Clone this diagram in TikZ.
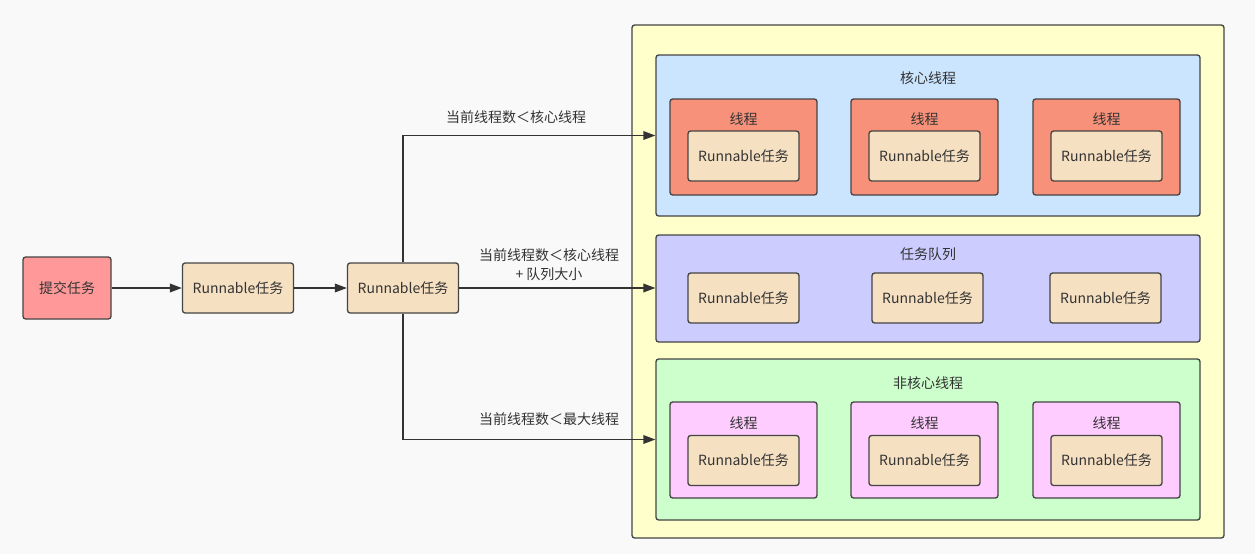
\documentclass[tikz,border=0pt]{standalone}
\usepackage{fontspec}
\setmainfont{Noto Sans CJK SC}
\usetikzlibrary{arrows.meta,positioning}

\definecolor{bggray}{HTML}{F9F9F9}
\definecolor{linegray}{HTML}{444444}
\definecolor{textgray}{HTML}{333333}
\definecolor{submitfill}{HTML}{FF9999}
\definecolor{taskfill}{HTML}{F6E0C2}
\definecolor{poolfill}{HTML}{FFFFCC}
\definecolor{corefill}{HTML}{CCE5FF}
\definecolor{threadfill}{HTML}{F8917A}
\definecolor{queuefill}{HTML}{CCCCFF}
\definecolor{extrafill}{HTML}{CCFFCC}
\definecolor{extrathread}{HTML}{FFCCFF}

\tikzset{
  box/.style={draw=linegray, line width=1pt, rounded corners=2pt, text=textgray, inner sep=0pt},
  task/.style={box, fill=taskfill, minimum width=83.25pt, minimum height=37.5pt},
  area/.style={box, minimum width=408pt},
  thread/.style={box, minimum width=110.25pt, minimum height=72pt},
  flow/.style={draw=textgray, line width=1pt, -{Triangle[length=9pt, width=6.5pt]}},
  tag/.style={text=textgray, align=center}
}

\begin{document}
\begin{tikzpicture}[x=0.75pt, y=-0.75pt, font=\fontsize{10.5pt}{14pt}\selectfont]
  \fill[bggray] (0,0) rectangle (1255,554);
  \useasboundingbox (0,0) rectangle (1255,554);

  % 线程池
  \node[box, fill=poolfill, minimum width=444pt, minimum height=384.75pt] (pool) at (928,281.5) {};

  \node[area, fill=corefill, minimum height=120.75pt] (core) at (928,135.5) {};
  \node[area, fill=queuefill, minimum height=80.25pt] (queue) at (928,288.5) {};
  \node[area, fill=extrafill, minimum height=120.75pt] (extra) at (928,439.5) {};

  \node[tag] (coretitle) at (928,78) {核心线程};
  \node[tag] (queuetitle) at (928,254) {任务队列};
  \node[tag] (extratitle) at (928,383) {非核心线程};

  \foreach \x [count=\i] in {743.5, 924.5, 1106.5} {
    \node[thread, fill=threadfill] (ct\i) at (\x,147) {};
    \node[tag] (ctt\i) at (\x,119) {线程};
    \node[task] (cr\i) at (\x,156) {Runnable任务};
    \node[thread, fill=extrathread] (et\i) at (\x,450) {};
    \node[tag] (ett\i) at (\x,423) {线程};
    \node[task] (er\i) at (\x,460.5) {Runnable任务};
  }
  \foreach \x [count=\i] in {743.5, 927.5, 1105.5}
    \node[task] (qr\i) at (\x,298) {Runnable任务};

  % 提交流程
  \node[box, fill=submitfill, minimum width=66pt, minimum height=46.5pt] (submit) at (67,288) {提交任务};
  \node[task] (t1) at (238,288) {Runnable任务};
  \node[task] (t2) at (403,288) {Runnable任务};

  \draw[flow] (submit) -- (t1);
  \draw[flow] (t1) -- (t2);
  \draw[flow] (t2.north) |- (core.west);
  \draw[flow] (t2.east) -- (t2.east -| queue.west);
  \draw[flow] (t2.south) |- (extra.west);

  \node[tag] (c1) at (516,117) {当前线程数＜核心线程};
  \node[tag] (c2) at (549,265) {当前线程数＜核心线程\\+ 队列大小};
  \node[tag] (c3) at (549,419) {当前线程数＜最大线程};
\end{tikzpicture}
\end{document}
